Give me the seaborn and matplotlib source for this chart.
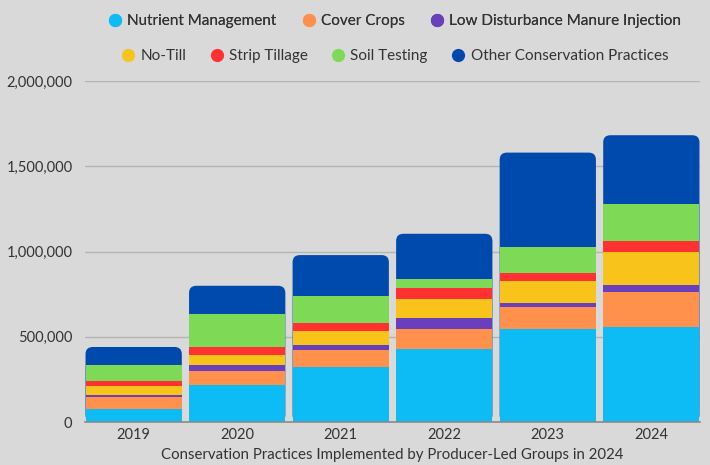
import numpy as np
import pandas as pd
import seaborn as sns
import matplotlib
matplotlib.use("Agg")
import matplotlib.pyplot as plt
from matplotlib.patches import FancyBboxPatch
from matplotlib.lines import Line2D
from matplotlib.ticker import FuncFormatter

years = ["2019", "2020", "2021", "2022", "2023", "2024"]
nutrient_management = [78000, 219000, 324000, 426000, 547000, 559000]
cover_crops = [70000, 82000, 100000, 121000, 129000, 205000]
manure_injection = [12000, 35000, 29000, 64000, 23000, 37000]
no_till = [53000, 58000, 82000, 112000, 129000, 197000]
strip_tillage = [29000, 43000, 43000, 64000, 43000, 65000]
soil_testing = [94000, 198000, 162000, 53000, 157000, 217000]
other_practices = [104000, 164000, 239000, 264000, 552000, 402000]

series_names = ["Nutrient Management", "Cover Crops", "Low Disturbance Manure Injection",
                "No-Till", "Strip Tillage", "Soil Testing", "Other Conservation Practices"]
series_values = [nutrient_management, cover_crops, manure_injection, no_till,
                 strip_tillage, soil_testing, other_practices]
colors = ["#0DBBF5", "#FF914D", "#6A3FBB", "#F8C31B", "#FF3131", "#7ED957", "#004AAD"]

df = pd.DataFrame({"year": years})
for name, vals in zip(series_names, series_values):
    df[name] = vals
cum = df[series_names].cumsum(axis=1)

sns.set_theme(style="white")
plt.rcParams["font.family"] = ["Lato", "DejaVu Sans"]
bg = "#D9D9D9"
fig = plt.figure(figsize=(7.1, 4.65), dpi=100, facecolor=bg)
ax = fig.add_axes([85 / 710, 1 - 422 / 465, 615 / 710, (422 - 81) / 465])
ax.set_facecolor(bg)

bw = 0.93
for i in range(len(series_names) - 1, -1, -1):
    n_before = len(ax.patches)
    sns.barplot(x=df["year"], y=cum[series_names[i]], color=colors[i], width=bw,
                saturation=1, linewidth=0, ax=ax, zorder=3)
    if i == len(series_names) - 1:
        new = ax.patches[n_before:]
        for p in list(new):
            x, w, h = p.get_x(), p.get_width(), p.get_height()
            p.remove()
            fb = FancyBboxPatch((x, 0), w, h,
                                boxstyle="round,pad=0,rounding_size=0.07",
                                mutation_aspect=600000, facecolor=colors[i],
                                edgecolor="none", zorder=3)
            ax.add_patch(fb)

ax.set_xlim(-bw / 2 - 0.005, 5 + bw / 2 + 0.005)
ax.set_ylim(0, 2000000)
ax.set_yticks([0, 500000, 1000000, 1500000, 2000000])
ax.yaxis.set_major_formatter(FuncFormatter(lambda v, p: f"{int(v):,}"))
ax.grid(axis="y", color="#B5B5B5", linewidth=1.0, zorder=0)
ax.set_axisbelow(True)
for s in ["top", "right", "left"]:
    ax.spines[s].set_visible(False)
ax.spines["bottom"].set_color("#8A8A8A")
ax.spines["bottom"].set_linewidth(1.2)
ax.spines["bottom"].set_zorder(4)
ax.tick_params(axis="both", length=0, labelsize=10.5, colors="#333333")
ax.tick_params(axis="y", pad=9)
ax.tick_params(axis="x", pad=4)
ax.set_ylabel("")
ax.set_xlabel("Conservation Practices Implemented by Producer-Led Groups in 2024",
              fontsize=10.8, color="#333333", labelpad=5)

def handles(idx):
    return [Line2D([0], [0], marker="o", linestyle="none", markersize=9.5,
                   markerfacecolor=colors[k], markeredgecolor="none") for k in idx]

leg1 = fig.legend(handles(range(0, 3)), series_names[0:3], loc="center",
                  bbox_to_anchor=(392 / 710, 1 - 21 / 465), ncol=3, frameon=False,
                  fontsize=11, handletextpad=0.0, handlelength=1.6,
                  columnspacing=1.3, labelcolor="#333333")
leg2 = fig.legend(handles(range(3, 7)), series_names[3:7], loc="center",
                  bbox_to_anchor=(392 / 710, 1 - 56 / 465), ncol=4, frameon=False,
                  fontsize=11, handletextpad=0.0, handlelength=1.6,
                  columnspacing=1.2, labelcolor="#333333")
fig.add_artist(leg1)

fig.savefig("out.png", dpi=100, facecolor=bg)
